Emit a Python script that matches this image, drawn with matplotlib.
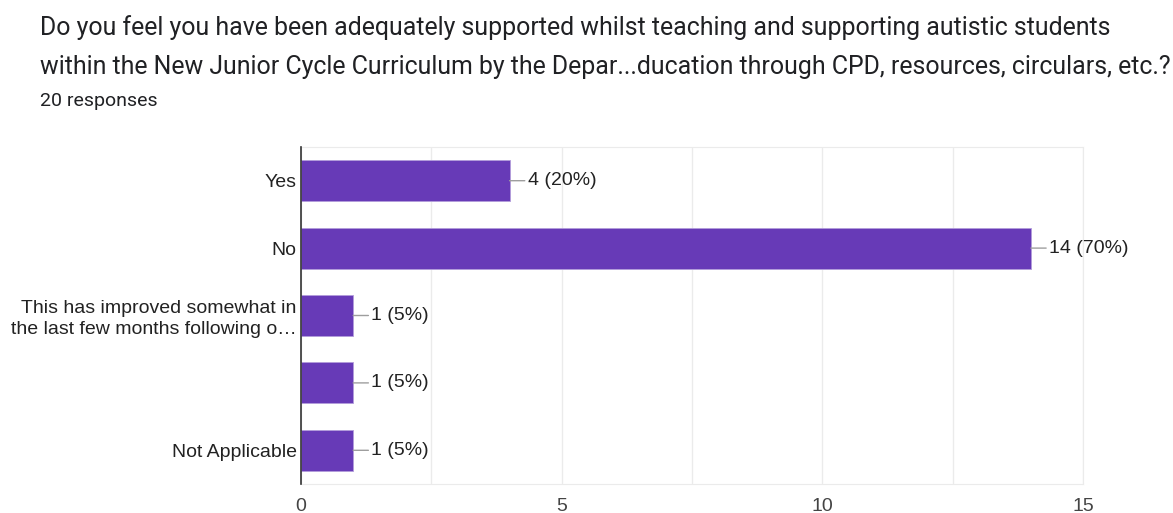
import matplotlib.pyplot as plt
from matplotlib.ticker import MultipleLocator

# survey answers, top to bottom
answers = ['Yes', 'No',
           'This has improved somewhat in\nthe last few months following o\u2026',
           '', 'Not Applicable']
counts = [4, 14, 1, 1, 1]
total = 20
x_ticks = [0, 5, 10, 15]

title_lines = ['Do you feel you have been adequately supported whilst teaching and supporting autistic students',
               'within the New Junior Cycle Curriculum by the Depar...ducation through CPD, resources, circulars, etc.?']
subtitle = '20 responses'

bar_color = '#673ab7'
text_color = '#222222'
W, H = 1173, 513

fig = plt.figure(figsize=(W / 100, H / 100), dpi=100)
ax = fig.add_axes([301 / W, 1 - 484 / H, 782 / W, 337 / H])

ypos = list(range(len(answers)))
ax.barh(ypos, counts, height=0.61, color=bar_color, edgecolor='#b39ddb',
        linewidth=0.6, zorder=3)

for y, c in zip(ypos, counts):
    label = '{} ({}%)'.format(c, round(c * 100 / total))
    ax.annotate(label, xy=(c, y), xytext=(13, 0), textcoords='offset points',
                va='center', ha='left', fontsize=14, color=text_color,
                family='Liberation Sans',
                arrowprops=dict(arrowstyle='-', color='#9e9e9e', lw=1,
                                shrinkA=0, shrinkB=0))

ax.set_ylim(len(answers) - 0.5, -0.5)
ax.set_xlim(0, 15)
ax.set_yticks(ypos)
ax.set_yticklabels(answers, fontsize=14, color=text_color,
                   family='Liberation Sans', linespacing=1.3)
ax.set_xticks(x_ticks)
ax.set_xticklabels([str(t) for t in x_ticks], fontsize=14, color='#444444',
                   family='Liberation Sans')
ax.xaxis.set_minor_locator(MultipleLocator(2.5))
ax.grid(axis='x', which='both', color='#ebebeb', lw=1, zorder=0)
ax.tick_params(axis='both', which='both', length=0, pad=3)
ax.tick_params(axis='x', pad=10)
for side in ['top', 'right', 'bottom']:
    ax.spines[side].set_color('#ebebeb')
ax.spines['left'].set_color('#333333')
ax.spines['left'].set_linewidth(1.2)
ax.spines['left'].set_zorder(4)

for i, line in enumerate(title_lines):
    fig.text(40 / W, 1 - (28 + 39 * i) / H, line, fontsize=17.9,
             color='#202124', family='Roboto', va='center', ha='left')
fig.text(40 / W, 1 - 101 / H, subtitle, fontsize=14, color='#202124',
         family='Roboto', va='center', ha='left')

fig.savefig('out.png', dpi=100)
